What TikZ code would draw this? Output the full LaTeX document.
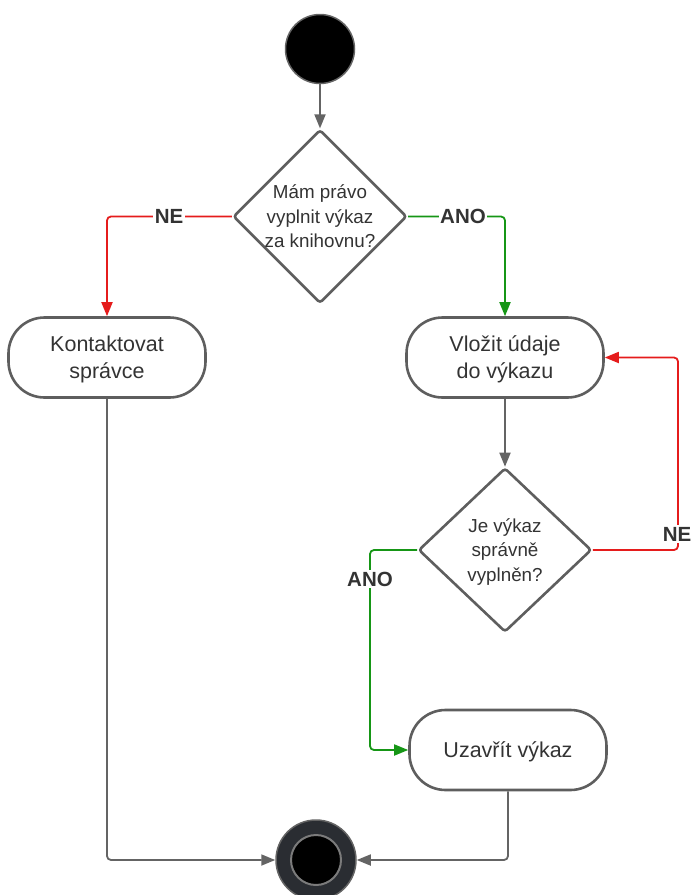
\documentclass[tikz,border=0pt]{standalone}
\usepackage{fontspec}
\setmainfont{Liberation Sans}
\usetikzlibrary{shapes.geometric,arrows.meta}
\definecolor{edgegray}{HTML}{5E5E5E}
\definecolor{linegray}{HTML}{646464}
\definecolor{txtgray}{HTML}{333333}
\definecolor{nored}{HTML}{E51C1C}
\definecolor{yesgreen}{HTML}{169616}
\definecolor{ringdark}{HTML}{2A2D32}
\tikzset{
  activity/.style={draw=edgegray, line width=2.6pt, rectangle, rounded corners=36pt,
    minimum width=197pt, minimum height=80pt, inner sep=0pt, align=center,
    text depth=0pt, text=txtgray, font=\fontsize{21.5}{27}\selectfont},
  decision/.style={draw=edgegray, line width=2.6pt, diamond, rounded corners=3pt,
    minimum width=173pt, minimum height=164pt, inner sep=0pt, align=center,
    text depth=0pt, text=txtgray, font=\fontsize{18.8}{24.5}\selectfont},
  conn/.style={draw=linegray, line width=1.8pt, rounded corners=4pt,
    -{Triangle[length=14pt,width=11pt]}},
  noconn/.style={conn, draw=nored, -{Triangle[length=14pt,width=11pt,fill=nored]}},
  yesconn/.style={conn, draw=yesgreen, -{Triangle[length=14pt,width=11pt,fill=yesgreen]}},
  lbl/.style={fill=white, inner sep=1.5pt, text=txtgray, font=\bfseries\fontsize{20.5}{22}\selectfont},
}
\begin{document}
\begin{tikzpicture}[x=1pt,y=-1pt]
\useasboundingbox (0,0) rectangle (692,895);

% start and end markers
\node[circle, fill=black, draw=linegray, line width=1.5pt, minimum size=69pt, inner sep=0pt] (start) at (320,49) {};
\node[circle, fill=ringdark, draw=linegray, line width=1.5pt, minimum size=80pt, inner sep=0pt] (endo) at (316,860) {};
\node[circle, fill=black, draw=linegray!85, line width=2pt, minimum size=50pt, inner sep=0pt] (endi) at (316,860) {};

% decisions
\node[decision] (d1) at (320,216.5) {Mám právo\\vyplnit výkaz\\za knihovnu?};
\node[decision] (d2) at (505,550) {Je výkaz\\správně\\vyplněn?};

% activities
\node[activity] (kont) at (107,357.5) {Kontaktovat\\správce};
\node[activity] (vloz) at (505,357.5) {Vložit údaje\\do výkazu};
\node[activity] (uzav) at (508,750) {Uzavřít výkaz};

% helper points
\coordinate (nebend) at (678,550);
\coordinate (anobend) at (370,550);

% connectors
\draw[conn] (start) -- (d1.north);
\draw[noconn] (d1.west) -| (kont.north);
\draw[yesconn] (d1.east) -| (vloz.north);
\draw[conn] (vloz.south) -- (d2.north);
\draw[noconn] (d2.east) -- (nebend) |- (vloz.east);
\draw[yesconn] (d2.west) -- (anobend) |- (uzav.west);
\draw[conn] (kont.south) |- (endo.west);
\draw[conn] (uzav.south) |- (endo.east);

% branch labels
\node[lbl] (l1) at (169,216.5) {NE};
\node[lbl] (l2) at (463,216.5) {ANO};
\node[lbl] (l3) at (677,534) {NE};
\node[lbl] (l4) at (370,579) {ANO};
\end{tikzpicture}
\end{document}
